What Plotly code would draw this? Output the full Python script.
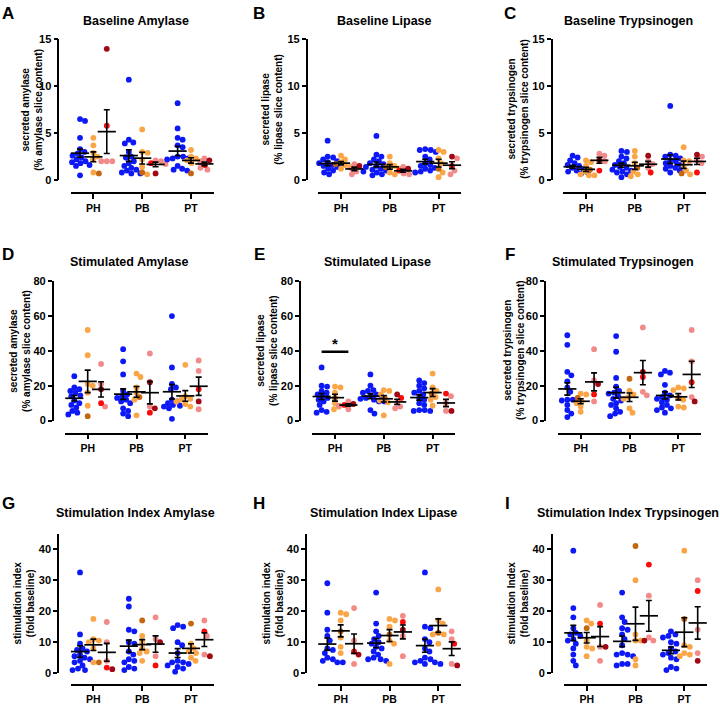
import math
import statistics
import plotly.graph_objects as go

cats = ["PH", "PB", "PT"]

# each list holds [PH, PB, PT]; blue = controls, orange / orange_dk and pink / red / dkred = patient groups
# A - Baseline Amylase
a_blue = [[6.5, 6.3, 4.5, 3.3, 3.0, 2.8, 2.6, 2.4, 2.2, 2.0, 1.9, 1.8, 1.6, 1.5, 0.5],
          [10.7, 4.3, 4.0, 3.9, 3.0, 2.5, 2.4, 2.0, 1.8, 1.5, 1.3, 1.1, 1.0, 0.8, 0.7, 0.7],
          [8.2, 5.5, 4.5, 4.3, 3.7, 3.5, 2.5, 2.5, 2.3, 2.2, 2.3, 1.5, 1.2, 1.1, 1.0]]
a_orange = [[4.5, 3.7, 2.9, 2.5, 2.2, 0.8], [5.4, 3.0, 2.9, 2.2, 1.4, 0.6], [3.2, 2.5, 2.3, 2.1, 2.0, 1.8]]
a_orange_dk = [[0.7], [0.8], [0.7]]
a_pink = [[2.0, 2.0, 2.0], [2.1, 2.0, 1.7], [2.3, 1.9, 1.3, 1.1]]
a_red = [[5.8], [1.8], [1.6]]
a_dkred = [[14.0], [0.7], [2.1]]

# B - Baseline Lipase
b_blue = [[4.2, 2.5, 2.4, 2.2, 2.0, 1.9, 1.8, 1.6, 1.5, 1.4, 1.3, 1.2, 1.0, 0.8, 0.6],
          [4.7, 2.7, 2.5, 2.2, 2.0, 1.8, 1.7, 1.5, 1.4, 1.2, 1.1, 1.0, 0.9, 0.8, 0.6, 0.5],
          [3.3, 3.2, 3.2, 3.0, 2.5, 2.2, 1.8, 1.6, 1.5, 1.3, 1.2, 1.0, 0.9, 0.8]]
b_orange = [[2.6, 2.2, 1.9, 1.6, 1.4, 1.2], [2.5, 1.8, 1.5, 1.2, 0.8, 0.6], [3.2, 3.0, 2.3, 1.8, 0.8, 0.3]]
b_orange_dk = [[1.7], [1.4], [1.2]]
b_pink = [[1.7, 1.2, 0.9, 0.6], [1.4, 0.7, 0.6], [2.3, 1.0, 0.6]]
b_red = [[], [1.0], [1.5]]
b_dkred = [[1.5], [1.2], [2.5]]

# C - Baseline Trypsinogen
c_blue = [[2.6, 2.4, 2.1, 1.8, 1.6, 1.5, 1.4, 1.3, 1.2, 1.1, 1.0, 0.9, 0.8, 0.8, 0.7],
          [3.1, 3.0, 2.5, 2.3, 2.0, 1.8, 1.6, 1.4, 1.3, 1.1, 1.0, 0.9, 0.8, 0.6, 0.3],
          [7.9, 2.7, 2.6, 2.5, 2.3, 2.1, 2.0, 1.8, 1.6, 1.5, 1.3, 1.2, 1.0, 0.8]]
c_orange = [[2.1, 1.9, 1.5, 0.9, 0.6, 0.5, 0.5], [3.1, 2.5, 1.8, 0.9, 0.6, 0.4], [3.5, 2.1, 2.0, 1.5, 1.0, 0.6]]
c_orange_dk = [[1.1], [1.3], [0.7]]
c_pink = [[2.8, 2.6, 2.0], [2.0, 1.7, 1.3], [2.5, 2.1, 1.8]]
c_red = [[1.0], [0.8], [0.8]]
c_dkred = [[2.1], [2.6], [2.7]]

# D - Stimulated Amylase
d_blue = [[25.5, 19, 18, 17, 16.5, 16, 14.5, 14, 11.5, 10, 9, 7.5, 5.5, 4.5, 3.5],
          [41, 34, 26.5, 17, 15, 14, 13, 12, 11, 10, 7, 5.5, 4, 2.5],
          [60, 30.5, 21, 19, 18, 12, 11, 10, 9, 8.5, 8, 7, 1]]
d_orange = [[52, 37.5, 21, 20, 16, 8.5], [27, 25, 19, 16, 12, 3], [32, 14, 12.5, 12, 11, 9.5, 8]]
d_orange_dk = [[2.5], [13.5], []]
d_pink = [[32.5, 21, 8], [38.5, 8], [34.5, 28.5, 6.5]]
d_red = [[10], [4.5], [18]]
d_dkred = [[18], [22, 7], [11]]

# E - Stimulated Lipase
e_blue = [[30.5, 20, 19.5, 17, 16, 15, 14.5, 14, 13, 12, 11, 9, 6, 5, 4.5],
          [26.5, 20, 17.5, 17, 16, 15, 14.5, 14, 13, 12.5, 12, 11, 11, 6, 4],
          [23, 21.5, 20, 18.5, 17, 16, 15, 13, 12, 10, 9, 6, 6, 5.5, 5.5]]
e_orange = [[19.5, 19, 16, 10, 8, 6.5], [17.5, 17, 15, 11.5, 10.5, 3], [27, 19, 17, 13.5, 12, 8.5]]
e_orange_dk = [[13], [13], [15.5]]
e_pink = [[11, 8.5, 6.5], [10.5, 8, 7], [14, 10, 5.5]]
e_red = [[9], [13], [15.5]]
e_dkred = [[9.5], [15], [5.5]]

# F - Stimulated Trypsinogen
f_blue = [[49, 43.5, 28, 26, 22.5, 19, 16.5, 12, 12, 11.5, 11.5, 9, 6, 4, 2],
          [48.5, 39.5, 24.5, 19.5, 17, 16, 15.5, 14, 12.5, 11.5, 10, 9, 7, 5, 4, 2.5],
          [28.5, 27.5, 26.5, 20.5, 16, 14.5, 13.5, 12.5, 12, 10.5, 9, 7.5, 7, 6, 4.5]]
f_orange = [[15.5, 15, 11, 10, 8, 5], [17, 15, 13.5, 12.5, 7, 4.5], [19, 18.5, 17.5, 12, 8, 7.5]]
f_orange_dk = [[13], [24], [13]]
f_pink = [[41, 23, 11], [53.5, 16.5, 14.5], [52, 34, 13.5]]
f_red = [[15], [25], [22]]
f_dkred = [[21], [28], [11]]

# G - Stimulation Index Amylase
g_blue = [[32.5, 12.5, 9.5, 8, 7.5, 7, 6, 5.5, 5, 4.5, 4, 3.5, 2.5, 1.5, 1, 1],
          [24, 21.5, 14, 13.5, 10, 9.5, 7, 6, 4.5, 4, 3.5, 2, 1.5, 1],
          [15.5, 15, 14.5, 10, 9, 6.5, 4, 3.5, 3.5, 3, 2.5, 2, 1.5, 0.5]]
g_orange = [[17.5, 11, 10.5, 10, 8, 3.5], [12, 10, 8, 7, 6.5, 4], [9.5, 8, 7, 6.5, 5, 4]]
g_orange_dk = [[3.5], [17], [16]]
g_pink = [[16.5, 10, 4], [18, 11, 5.5], [17, 12, 6]]
g_red = [[1.8], [2.5], [13.5]]
g_dkred = [[1.3], [10], [5.5]]

# H - Stimulation Index Lipase
h_blue = [[29, 19.5, 14, 12, 10.5, 8, 7.5, 6.5, 5, 4.5, 4, 4, 3.5, 3.5],
          [26, 16, 13.5, 12, 11, 10, 9.5, 8.5, 8, 7, 6, 5, 4.5, 4.5, 4],
          [32.5, 15, 14.5, 11, 10, 8, 7, 5, 4.5, 4, 3.5, 3.5, 3, 3]]
h_orange = [[19.5, 19, 17, 11.5, 8.5, 6.5], [17.5, 17, 15, 10.5, 9.5, 3], [27, 17, 16, 12.5, 12.5, 9.5]]
h_orange_dk = [[13.5], [12.5], [13]]
h_pink = [[21, 10.5, 3], [18.5, 12, 5.5], [13.5, 11, 3]]
h_red = [[7], [16.5], [9.5]]
h_dkred = [[6], [14], [2.5]]

# I - Stimulation Index Trypsinogen
i_blue = [[39.5, 21, 18, 14.5, 13, 12.5, 12, 11, 10.5, 9.5, 8, 6, 4, 2.5],
          [26, 18, 16.5, 14.5, 14, 12.5, 11, 9, 6.5, 6, 6, 5.5, 3, 3, 2.5],
          [13.5, 12.5, 12, 11.5, 10, 9.5, 8, 7, 6.5, 6, 5, 4.5, 2, 1.5, 1]]
i_orange = [[17, 16, 10.5, 8.5, 8, 5.5], [30, 12.5, 10.5, 10.5, 4.5, 2.5], [39.5, 9, 8.5, 6.5, 6, 5.5]]
i_orange_dk = [[14.5], [41], [17.5]]
i_pink = [[22, 8.5, 4], [25, 11.5, 10.5], [30, 14, 6.5]]
i_red = [[16], [35], [26.5]]
i_dkred = [[8.5], [10.5], [4]]

yt_amy = "secreted amylase<br>(% amylase slice content)"
yt_lip = "secreted lipase<br>(% lipase slice content)"
yt_try = "secreted trypsinogen<br>(% trypsinogen slice content)"

panels = [
    ("A", "Baseline Amylase", yt_amy, 15, [0, 5, 10, 15], (a_blue, a_orange, a_orange_dk, a_pink, a_red, a_dkred)),
    ("B", "Baseline Lipase", yt_lip, 15, [0, 5, 10, 15], (b_blue, b_orange, b_orange_dk, b_pink, b_red, b_dkred)),
    ("C", "Baseline Trypsinogen", yt_try, 15, [0, 5, 10, 15], (c_blue, c_orange, c_orange_dk, c_pink, c_red, c_dkred)),
    ("D", "Stimulated Amylase", yt_amy, 80, [0, 20, 40, 60, 80], (d_blue, d_orange, d_orange_dk, d_pink, d_red, d_dkred)),
    ("E", "Stimulated Lipase", yt_lip, 80, [0, 20, 40, 60, 80], (e_blue, e_orange, e_orange_dk, e_pink, e_red, e_dkred)),
    ("F", "Stimulated Trypsinogen", yt_try, 80, [0, 20, 40, 60, 80], (f_blue, f_orange, f_orange_dk, f_pink, f_red, f_dkred)),
    ("G", "Stimulation Index Amylase", "stimulation index<br>(fold baseline)", 45, [0, 10, 20, 30, 40],
     (g_blue, g_orange, g_orange_dk, g_pink, g_red, g_dkred)),
    ("H", "Stimulation Index Lipase", "stimulation index<br>(fold baseline)", 45, [0, 10, 20, 30, 40],
     (h_blue, h_orange, h_orange_dk, h_pink, h_red, h_dkred)),
    ("I", "Stimulation Index Trypsinogen", "stimulation Index<br>(fold baseline)", 45, [0, 10, 20, 30, 40],
     (i_blue, i_orange, i_orange_dk, i_pink, i_red, i_dkred)),
]

# ---- styling / placement (pixels in the 720 x 708 page) ----
W, H = 720, 708
FONT = "Liberation Sans, Arial, sans-serif"
BLUE, ORANGE, ORANGE_DK = "rgb(12,24,245)", "rgb(250,165,70)", "rgb(196,102,16)"
PINK, RED, DKRED = "rgb(242,138,138)", "rgb(250,10,10)", "rgb(160,8,20)"
shade = [BLUE, ORANGE, ORANGE_DK, PINK, RED, DKRED]
sub_off = [-0.274, 0.0, 0.274]
XR = [-0.465, 2.465]
AX_W = 143

rows = [(34, 177, 190.7), (280, 421.7, 435), (536.7, 678.7, 690.7)]  # top, zero, x-line
yaxis_px = [58.3, 306.7, 551.5, 52.7, 300, 545, 58, 306, 551.7]
xstart_px = [70.7, 318.3, 563.3, 65, 312.3, 558, 70.7, 318, 564]
title_px = [(136, 15), (384, 15), (628, 15), (129, 260), (377, 260), (623, 260), (135, 516), (383, 516), (628, 516)]
letter_px = [(8, 8), (259, 8), (510, 8), (8, 253), (259, 253), (510, 253), (8, 506), (259, 506), (507, 506)]
ytitle_px = [32, 272, 518, 20, 267, 514, 24, 273, 518]


def fx(px):
    return px / W


def fy(py):
    return 1 - py / H


def swarm(vals, ypx, d=5.3, step=0.5):
    order = sorted(range(len(vals)), key=lambda i: -vals[i])
    placed, off = [], [0.0] * len(vals)
    for i in order:
        y = vals[i] * ypx
        k = 0
        while True:
            c = ((k + 1) // 2) * step * (1 if k % 2 else -1)
            if all((c - px) ** 2 + (y - py) ** 2 >= d * d for px, py in placed):
                break
            k += 1
        off[i] = c
        placed.append((c, y))
    return off


fig = go.Figure()
xpx_per_unit = AX_W / (XR[1] - XR[0])
annotations = []

for p, (letter, title, ytitle, ymax, yticks, series) in enumerate(panels):
    k = p + 1
    xa, ya = ("x", "y") if k == 1 else (f"x{k}", f"y{k}")
    top, zero, xline = rows[p // 3]
    ypx = (zero - top) / ymax
    means_x, means_y, sems = [], [], []
    for c in range(3):
        cohorts = [[0], [1, 2], [3, 4, 5]]
        for g, members in enumerate(cohorts):
            vals, cols = [], []
            for m in members:
                vals += series[m][c]
                cols += [shade[m]] * len(series[m][c])
            center = c + sub_off[g]
            offs = swarm(vals, ypx)
            fig.add_trace(go.Scatter(
                x=[center + o / xpx_per_unit for o in offs], y=vals, mode="markers",
                marker=dict(color=cols, size=5.8, line=dict(width=0)),
                xaxis=xa, yaxis=ya, cliponaxis=False, hoverinfo="y"))
            means_x.append(center)
            means_y.append(statistics.mean(vals))
            sems.append(statistics.stdev(vals) / math.sqrt(len(vals)))
    fig.add_trace(go.Scatter(
        x=means_x, y=means_y, mode="markers",
        marker=dict(symbol="line-ew", size=13, color="black", line=dict(width=1.7, color="black")),
        error_y=dict(type="data", array=sems, width=3, thickness=1.6, color="black"),
        xaxis=xa, yaxis=ya, cliponaxis=False, hoverinfo="y"))

    x0 = xstart_px[p]
    fig.layout[xa.replace("x", "xaxis")] = dict(
        domain=[fx(x0), fx(x0 + AX_W)], range=XR, anchor="free", position=fy(xline),
        showline=True, linewidth=1.5, linecolor="black", ticks="outside", ticklen=5,
        tickwidth=1.5, tickcolor="black", tickvals=[0, 1, 2], ticktext=cats,
        tickfont=dict(family=FONT, size=10.5, color="black", weight="bold"),
        showgrid=False, zeroline=False)
    fig.layout[ya.replace("y", "yaxis")] = dict(
        domain=[fy(zero), fy(top)], range=[0, ymax], anchor="free", position=fx(yaxis_px[p]),
        showline=True, linewidth=1.5, linecolor="black", ticks="outside", ticklen=4,
        tickwidth=1.5, tickcolor="black", tickvals=yticks,
        tickfont=dict(family=FONT, size=11, color="black", weight="bold"),
        showgrid=False, zeroline=False)

    annotations.append(dict(text=title, x=fx(title_px[p][0]), y=fy(title_px[p][1]),
                            xref="paper", yref="paper", showarrow=False, xanchor="center", yanchor="middle",
                            font=dict(family=FONT, size=12.5, color="black", weight="bold")))
    annotations.append(dict(text=letter, x=fx(letter_px[p][0]), y=fy(letter_px[p][1]),
                            xref="paper", yref="paper", showarrow=False, xanchor="center", yanchor="middle",
                            font=dict(family=FONT, size=17, color="black", weight="bold")))
    annotations.append(dict(text=ytitle, x=fx(ytitle_px[p]), y=fy((top + zero) / 2), textangle=-90,
                            xref="paper", yref="paper", showarrow=False, xanchor="center", yanchor="middle",
                            font=dict(family=FONT, size=10, color="black", weight="bold")))

# significance marker in panel E (PH: controls vs. red group)
fig.add_shape(type="line", xref="x5", yref="y5", x0=sub_off[0], x1=sub_off[2], y0=39.5, y1=39.5,
              line=dict(color="black", width=2.5))
annotations.append(dict(text="*", x=0, y=44.5, xref="x5", yref="y5", showarrow=False,
                        font=dict(family=FONT, size=15, color="black", weight="bold")))

fig.update_layout(width=W, height=H, margin=dict(l=0, r=0, t=0, b=0),
                  paper_bgcolor="white", plot_bgcolor="white", showlegend=False,
                  annotations=annotations)

# drop the default 8px page margin so the figure sits at the window's corner
fig.write_html("out.html", config={"displayModeBar": False},
               post_script="document.body.style.margin = '0px';")
